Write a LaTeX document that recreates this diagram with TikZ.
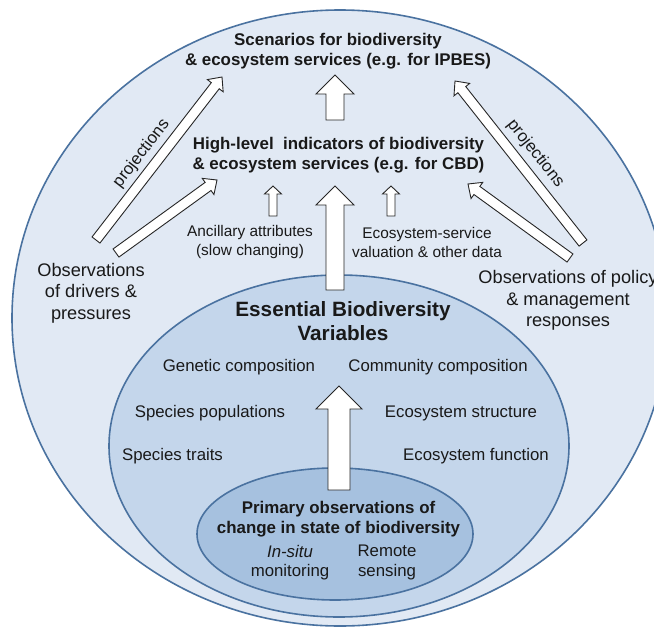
\documentclass[tikz,border=0pt]{standalone}
\usepackage{fontspec}
\setmainfont{Liberation Sans}
\usetikzlibrary{calc}
\definecolor{outerfill}{RGB}{225,233,244}
\definecolor{midfill}{RGB}{196,214,235}
\definecolor{innerfill}{RGB}{166,193,223}
\definecolor{ringline}{RGB}{74,114,160}
\definecolor{txt}{RGB}{25,25,25}
\tikzset{
  ring/.style={draw=ringline, line width=1.6pt},
  barrow/.style={draw=black!85, fill=white, line width=0.9pt, line join=miter},
  lbl/.style={inner sep=0pt, align=center, text=txt},
  head/.style={lbl, font=\fontsize{16.9}{20}\selectfont\bfseries},
  ebvfont/.style={lbl, font=\fontsize{20.7}{24}\selectfont\bfseries},
  reg/.style={lbl, font=\fontsize{16.8}{19.5}\selectfont},
  side/.style={lbl, font=\fontsize{18.2}{21.5}\selectfont},
  small/.style={lbl, font=\fontsize{15.4}{19}\selectfont},
}
% name, tail, tip, half shaft, half head, head length
\newcommand\blockarr[6]{%
  \coordinate (#1n) at ($(#3)!#6!(#2)$);
  \draw[barrow] ($(#2)!#4!90:(#3)$) -- ($(#1n)!#4!90:(#3)$) -- ($(#1n)!#5!90:(#3)$) -- (#3)
    -- ($(#1n)!#5!-90:(#3)$) -- ($(#1n)!#4!-90:(#3)$) -- ($(#2)!#4!-90:(#3)$) -- cycle;}
\begin{document}
\begin{tikzpicture}[x=1pt, y=-1pt]
\useasboundingbox (0,0) rectangle (654,627);
\clip (0,0) rectangle (654,627);
\fill[white] (0,0) rectangle (654,627);
% rings
\draw[ring, fill=outerfill] (340,318) ellipse [x radius=328pt, y radius=308pt];
\draw[ring, fill=midfill] (339,446) ellipse [x radius=230pt, y radius=171pt];
\draw[ring, fill=innerfill] (335,534) ellipse [x radius=138pt, y radius=66pt];
% arrow end points
\coordinate (upT) at (335,120);   \coordinate (upH) at (335,75);
\coordinate (midT) at (335,290);  \coordinate (midH) at (335,186);
\coordinate (lowT) at (339,490);  \coordinate (lowH) at (339,386);
\coordinate (ancT) at (273,216);  \coordinate (ancH) at (273,186);
\coordinate (esvT) at (391,216);  \coordinate (esvH) at (391,186);
\coordinate (lpT) at (96,240);    \coordinate (lpH) at (222,77);
\coordinate (llT) at (116,253);   \coordinate (llH) at (217,180);
\coordinate (rpT) at (583,243);   \coordinate (rpH) at (455,81);
\coordinate (rlT) at (570,258);   \coordinate (rlH) at (468,184);
% block arrows
\blockarr{up}{upT}{upH}{9pt}{19pt}{19pt}
\blockarr{mid}{midT}{midH}{9pt}{19pt}{19pt}
\blockarr{low}{lowT}{lowH}{11pt}{23pt}{23pt}
\blockarr{anc}{ancT}{ancH}{4pt}{8.5pt}{8pt}
\blockarr{esv}{esvT}{esvH}{4pt}{8.5pt}{8pt}
\blockarr{lp}{lpT}{lpH}{5pt}{10pt}{11pt}
\blockarr{ll}{llT}{llH}{5pt}{10pt}{11pt}
\blockarr{rp}{rpT}{rpH}{5pt}{10pt}{11pt}
\blockarr{rl}{rlT}{rlH}{5pt}{10pt}{11pt}
% texts
\node[head] (scen) at (338,51) {Scenarios for biodiversity\\\& ecosystem services (e.g. for IPBES)};
\node[head] (hli) at (338.5,155) {High-level\ \ indicators of biodiversity\\\& ecosystem services (e.g. for CBD)};
\node[small] (anc) at (250,242) {Ancillary attributes\\(slow changing)};
\node[small] (esv) at (427,242) {Ecosystem-service\\valuation \& other data};
\node[side] (drv) at (91,293) {Observations\\of drivers \&\\pressures};
\node[side] (pol) at (568,300.5) {Observations of policy\\\& management\\responses};
\node[reg, rotate=52.5] (pj1) at (141.5,153.5) {projections};
\node[reg, rotate=-51.7] (pj2) at (535.5,153.5) {projections};
\node[ebvfont] (ebv) at (343,321.5) {Essential Biodiversity\\Variables};
\node[reg] (gen) at (239,367) {Genetic composition};
\node[reg] (com) at (438,367) {Community composition};
\node[reg] (spp) at (210,413) {Species populations};
\node[reg] (est) at (461,413) {Ecosystem structure};
\node[reg] (spt) at (172.5,456) {Species traits};
\node[reg] (efn) at (476,456) {Ecosystem function};
\node[head] (prim) at (338.5,519.5) {Primary observations of\\change in state of biodiversity};
\node[reg] (ins) at (290,562.5) {\textit{In-situ}\\monitoring};
\node[reg] (rem) at (387,562.5) {Remote\\sensing};
\end{tikzpicture}
\end{document}
